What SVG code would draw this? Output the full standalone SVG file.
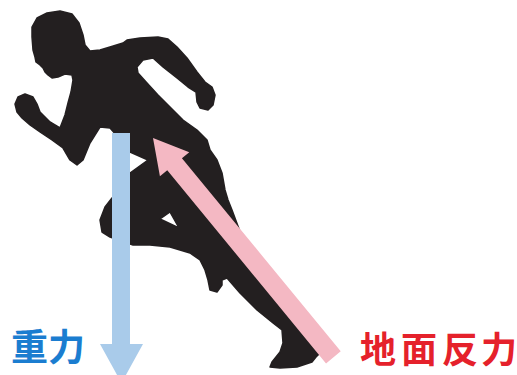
<svg xmlns="http://www.w3.org/2000/svg" width="517" height="375" viewBox="0 0 517 375">
  <style>
    .body { fill: #231f20; stroke: #231f20; stroke-width: 1.5; stroke-linejoin: round; fill-rule: evenodd; }
    .gravity { fill: #a9cbea; }
    .reaction { fill: #f4b8c3; }
    .label { font-family: "Noto Sans CJK JP", "Noto Sans CJK SC", sans-serif; font-weight: bold; }
    .label-gravity { fill: #1b7dd0; font-size: 37px; }
    .label-reaction { fill: #e5212b; font-size: 36px; }
  </style>
  <rect width="517" height="375" fill="#ffffff"/>

  <!-- sprinter silhouette -->
  <g id="runner">
    <path class="body" d="M60,11 L72,14 L79,23 L83,35 L85,45 L90,51 L100,50 L110,47 L123,43 L127,40 L140,38 L158,37 L168,39 L177,47 L187,58 L197,72 L205,82 L212,87 L215,95 L213,105 L208,110 L200,108 L197,102 L196,92 L188,87 L177,78 L163,67 L153,58 L143,60 L137,67 L138,73 L147,83 L158,95 L170,107 L183,120 L197,130 L207,140 L210,150 L217,160 L222,173 L225,190 L228,200 L232,210 L245,245 L300,318 L323,350 L316,357 L312,362 L297,367 L280,368 L270,367 L272,362 L280,352 L283,343 L282,330 L273,323 L257,310 L240,293 L227,278 L222,280 L222,285 L217,292 L210,290 L208,280 L205,270 L200,260 L190,253 L170,247 L150,245 L133,245 L110,237 L102,232 L100,220 L105,207 L112,198 L120,190 L130,173 L148,160 L130,152 L118,137 L110,128 L100,127 L90,143 L83,160 L77,165 L70,160 L63,148 L52,140 L40,132 L30,125 L22,118 L17,112 L15,104 L18,97 L25,94 L33,97 L37,104 L40,112 L50,122 L60,128 L65,115 L68,103 L71,92 L73,80 L72,75 L65,74 L58,77 L52,78 L48,75 L45,72 L43,68 L40,65 L36,62 L35,57 L33,50 L32,37 L32,27 L37,18 L47,13 Z M160,219 L170,212 L179,228 Z"/>
  </g>

  <!-- force arrows -->
  <g id="forces">
    <polygon id="gravity-arrow" class="gravity" points="112,133 130,133 130,344 143,344 121.5,383 100,344 112,344"/>
    <polygon id="reaction-arrow" class="reaction" transform="translate(153,138) rotate(50.57)" points="0,0 34,-19 34,-9.5 284,-9.5 284,9.5 34,9.5 34,19"/>
  </g>

  <!-- force labels -->
  <g id="labels">
    <text class="label label-gravity" x="11" y="361">重力</text>
    <text class="label label-reaction" x="360 401 442 481" y="363">地面反力</text>
  </g>
</svg>
